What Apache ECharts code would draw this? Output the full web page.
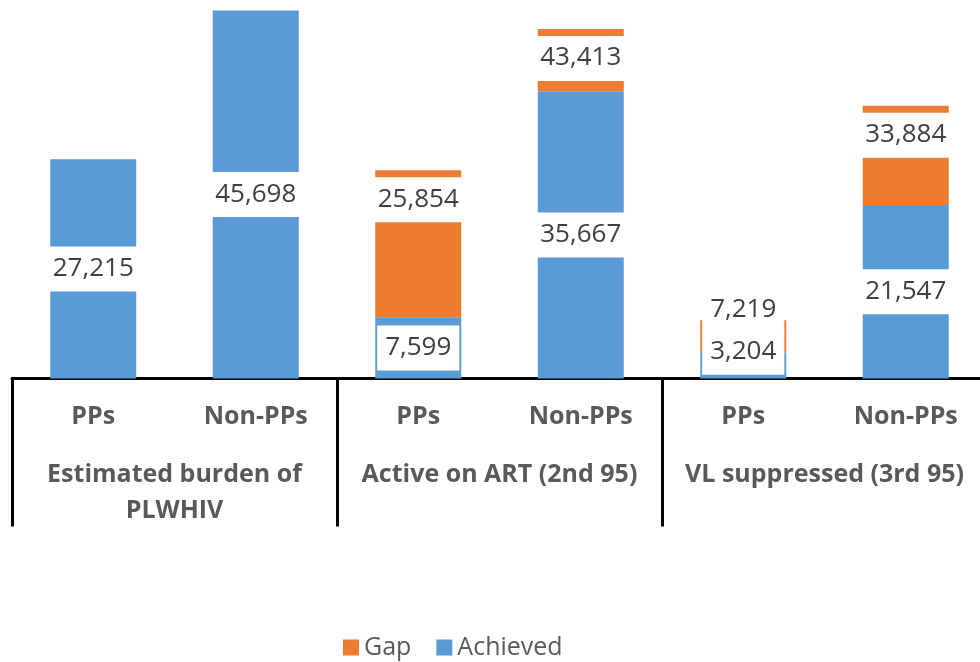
<!DOCTYPE html>
<html>
<head>
<meta charset="utf-8">
<script src="https://cdn.jsdelivr.net/npm/echarts@6/dist/echarts.min.js"></script>
<style>
  html, body { margin: 0; padding: 0; background: #fff; }
  #chart { width: 980px; height: 662px; }
</style>
</head>
<body>
<div id="chart"></div>
<script>
// sub categories (bottom row 1) and groups (bottom row 2)
const categories = ['PPs', 'Non-PPs', 'PPs', 'Non-PPs', 'PPs', 'Non-PPs'];
const groups = ['Estimated burden of\nPLWHIV', 'Active on ART (2nd 95)', 'VL suppressed (3rd 95)'];
// achieved values and the target (top of bar) shown on the gap label
const achieved = [27215, 45698, 7599, 35667, 3204, 21547];
const target = [null, null, 25854, 43413, 7219, 33884];

const fmt = v => v.toLocaleString('en-US');
const gap = target.map((t, i) => (t == null ? '-' : t - achieved[i]));

const labelBox = {
    show: true,
    color: '#404040',
    fontFamily: 'Open Sans',
    fontSize: 26,
    lineHeight: 30,
    backgroundColor: '#fff',
    padding: [7, 8, 8, 8]
};

const achievedData = achieved.map((v, i) => {
    // small bar: label sits over the top of the segment
    if (i === 4) return { value: v, label: { position: 'top', distance: -22 } };
    return v;
});
const gapData = gap.map((v, i) => {
    if (i === 4) return { value: v, label: { position: 'top', distance: -12 } };
    return v;
});

const axisFont = { fontFamily: 'Open Sans', fontWeight: 'bold', fontSize: 25, color: '#595959' };

let myChart = echarts.init(document.getElementById('chart'));
myChart.setOption({
    animation: false,
    legend: {
        data: ['Gap', 'Achieved'],
        left: 338,
        top: 630,
        itemWidth: 16,
        itemHeight: 16,
        itemGap: 25,
        icon: 'rect',
        textStyle: { fontFamily: 'Open Sans', fontSize: 25, color: '#595959' }
    },
    // plot runs a little past the right edge, as in the cropped original
    grid: { left: 12, width: 975, top: 0, height: 378.5, outerBoundsMode: 'none' },
    xAxis: [
        {
            type: 'category',
            data: categories,
            position: 'bottom',
            axisLine: { show: false },
            axisTick: { show: false },
            axisLabel: Object.assign({ interval: 0, margin: 23, lineHeight: 30 }, axisFont)
        },
        {
            type: 'category',
            data: groups,
            position: 'bottom',
            axisLine: { show: true, lineStyle: { color: '#000', width: 3 } },
            axisTick: { show: true, interval: 0, length: 148, lineStyle: { color: '#000', width: 3 } },
            axisLabel: Object.assign({ interval: 0, margin: 78, lineHeight: 36 }, axisFont)
        }
    ],
    yAxis: {
        type: 'value',
        min: 0,
        max: 47000,
        show: false
    },
    series: [
        {
            name: 'Achieved',
            type: 'bar',
            stack: 'total',
            xAxisIndex: 0,
            barWidth: 86,
            itemStyle: { color: '#5B9BD5' },
            label: Object.assign({ position: 'inside', formatter: p => fmt(p.value) }, labelBox),
            data: achievedData
        },
        {
            name: 'Gap',
            type: 'bar',
            stack: 'total',
            xAxisIndex: 0,
            barWidth: 86,
            itemStyle: { color: '#ED7D31' },
            label: Object.assign({ position: 'insideTop', distance: 7, formatter: p => fmt(target[p.dataIndex]) }, labelBox),
            data: gapData
        }
    ]
});
</script>
</body>
</html>
